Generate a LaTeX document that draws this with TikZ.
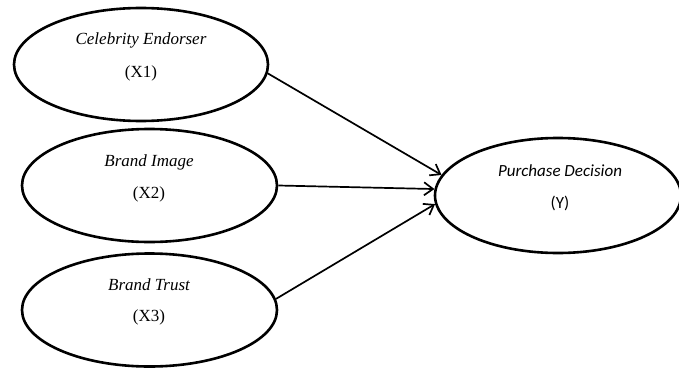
\documentclass[tikz,border=0pt]{standalone}
\usepackage{fontspec}
\setmainfont{Liberation Serif}
\newfontfamily\calib{Carlito}
\usetikzlibrary{shapes.geometric,arrows.meta}
\begin{document}
\begin{tikzpicture}[x=1pt,y=-1pt,
  var/.style={draw,ellipse,line width=2.6pt,inner sep=0pt,minimum width=254pt,minimum height=113pt},
  lbl/.style={font=\fontsize{17}{18}\selectfont\itshape,inner sep=0pt},
  code/.style={font=\fontsize{17}{18}\selectfont,inner sep=0pt},
  path/.style={line width=1.7pt,-{Straight Barb[length=9pt,width=13pt,line width=1.7pt]}}]
\useasboundingbox (0,0) rectangle (679,369);
\node[var] (e1) at (141,64.5) {};
\node[var,minimum width=255pt] (e2) at (149.5,185.5) {};
\node[var,minimum width=255pt] (e3) at (149.5,310) {};
\node[var,minimum width=246pt,minimum height=115pt] (e4) at (558,195.5) {};
\node[lbl] (t1) at (141,40) {Celebrity Endorser};
\node[code] (v1) at (141,73) {(X1)};
\node[lbl] (t2) at (149,162) {Brand Image};
\node[code] (v2) at (149,194) {(X2)};
\node[lbl] (t3) at (149,285) {Brand Trust};
\node[code] (v3) at (149,317) {(X3)};
\node[lbl,font=\calib\fontsize{17}{18}\selectfont\itshape] (t4) at (560,171) {Purchase Decision};
\node[code,font=\calib\fontsize{17}{18}\selectfont] (v4) at (560,203) {(Y)};
\draw[path] (e1.-4) -- (e4.170.5);
\draw[path] (e2.0) -- (e4.177.5);
\draw[path] (e3.5) -- (e4.184);
\end{tikzpicture}
\end{document}
